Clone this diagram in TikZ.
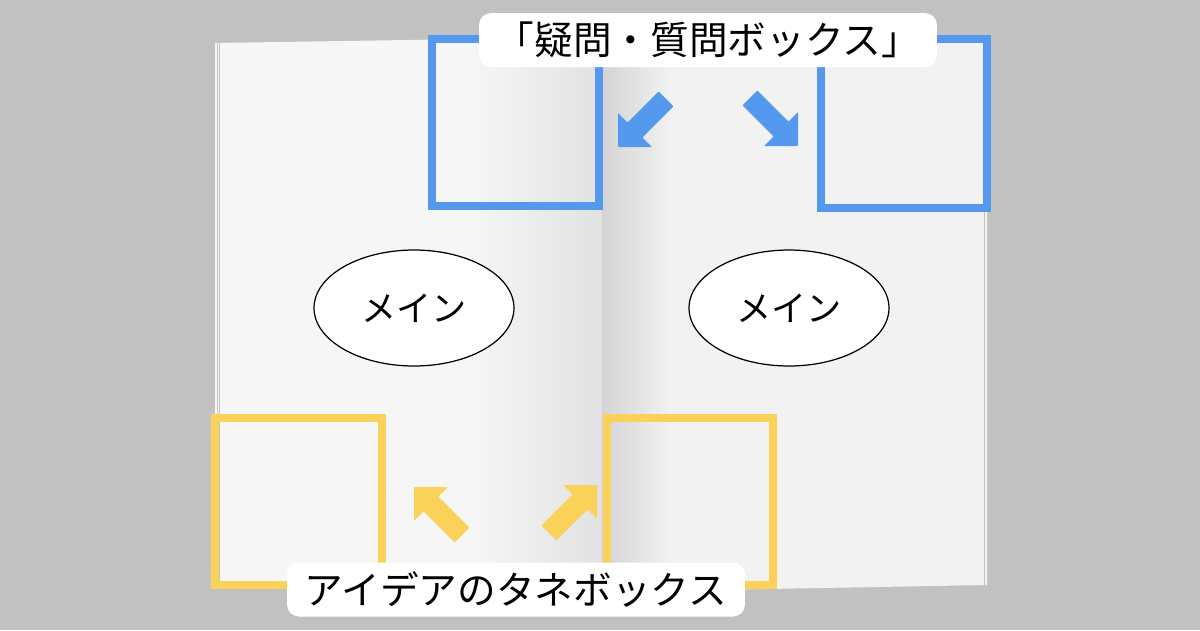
\documentclass[tikz,border=0pt]{standalone}
\usepackage{fontspec}
\newfontfamily\jp{Noto Sans CJK JP}
\usetikzlibrary{shapes.geometric}
\definecolor{bg}{RGB}{193,193,193}
\definecolor{pageL}{RGB}{246,246,246}
\definecolor{pageR}{RGB}{242,242,242}
\definecolor{spineL}{RGB}{226,226,226}
\definecolor{spineR}{RGB}{212,212,212}
\definecolor{qblue}{RGB}{85,153,238}
\definecolor{iyellow}{RGB}{250,210,90}
\definecolor{edgegray}{RGB}{196,196,196}
\newcommand\blkarrow[4]{%
  \fill[#1, rounded corners=0.5pt, shift={(#2,#3)}, rotate=#4]
    (0,0) -- (-24,24) -- (-24,10.5) -- (-68,10.5) -- (-68,-10.5) -- (-24,-10.5) -- (-24,-24) -- cycle;}
\tikzset{
  qbox/.style={draw=qblue, line width=0.16cm},
  ibox/.style={draw=iyellow, line width=0.16cm},
  mainell/.style={ellipse, draw=black, fill=white, line width=0.7pt,
    minimum width=4cm, minimum height=2.32cm, inner sep=0pt,
    font=\jp\fontsize{20pt}{24pt}\selectfont},
  tag/.style={fill=white, rounded corners=0.24cm, minimum width=9.16cm,
    minimum height=1.08cm, inner sep=0pt, font=\jp\fontsize{22pt}{26pt}\selectfont},
  pageedge/.style={draw=edgegray, line width=0.4pt}
}
\begin{document}
\begin{tikzpicture}[x=0.02cm,y=-0.02cm]
\useasboundingbox (0,0) rectangle (1200,630);
\fill[bg] (0,0) rectangle (1200,630);
% left page
\begin{scope}
  \clip (215,43) -- (602,37) -- (602,592) -- (215,588) -- cycle;
  \fill[pageL] (200,0) rectangle (602,630);
  \shade[left color=pageL, right color=spineL] (470,0) rectangle (602,630);
\end{scope}
% right page
\begin{scope}
  \clip (602,37) -- (988,40) -- (988,585) -- (602,592) -- cycle;
  \fill[pageR] (602,0) rectangle (1000,630);
  \shade[left color=spineR, right color=pageR] (602,0) rectangle (672,630);
\end{scope}
% page stack edges
\draw[pageedge] (217,43) -- (217,588);
\draw[pageedge] (219.5,43) -- (219.5,588);
\draw[pageedge] (984.5,40) -- (984.5,585);
\draw[pageedge] (987,40) -- (987,585);
% question boxes
\draw[qbox] (431.5,39) rectangle (599,206);
\draw[qbox] (821,39) rectangle (987,208);
% idea boxes
\draw[ibox] (215,418) rectangle (382,585);
\draw[ibox] (607,418) rectangle (773,585);
% arrows
\blkarrow{qblue}{618}{147}{225}
\blkarrow{qblue}{798}{146}{-45}
\blkarrow{iyellow}{414}{487}{135}
\blkarrow{iyellow}{597}{485}{45}
% main ellipses
\node[mainell] (mainL) at (414,308) {メイン};
\node[mainell] (mainR) at (789,308) {メイン};
% labels
\node[tag] (qlabel) at (708,40) {「疑問・質問ボックス」};
\node[tag] (ilabel) at (516,589.5) {アイデアのタネボックス};
\end{tikzpicture}
\end{document}
